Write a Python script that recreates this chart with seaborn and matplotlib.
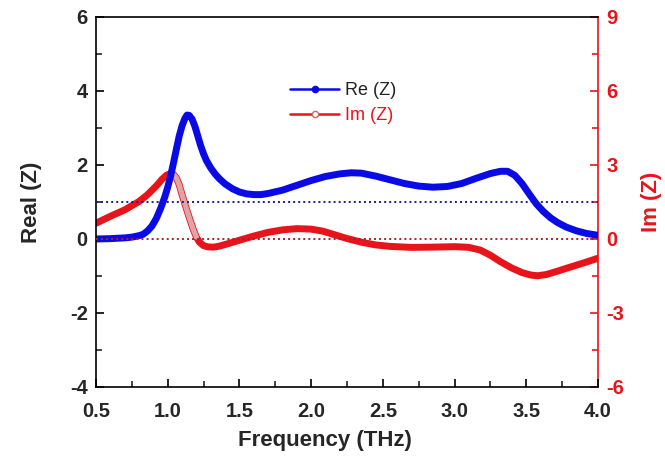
import numpy as np
import pandas as pd
import matplotlib
matplotlib.use("Agg")
import matplotlib.pyplot as plt
from matplotlib.lines import Line2D
from matplotlib.ticker import MultipleLocator
import seaborn as sns

# ---- data ----
freq_re = [0.50, 0.60, 0.70, 0.75, 0.80, 0.83, 0.86, 0.89, 0.92, 0.95, 0.98, 1.00,
           1.02, 1.04, 1.06, 1.08, 1.10, 1.12, 1.135, 1.15, 1.17, 1.19, 1.21, 1.23,
           1.25, 1.27, 1.30, 1.33, 1.36, 1.40, 1.45, 1.50, 1.55, 1.60, 1.65, 1.70,
           1.80, 1.90, 2.00, 2.10, 2.20, 2.28, 2.35, 2.45, 2.55, 2.65, 2.75, 2.85,
           2.95, 3.05, 3.15, 3.25, 3.32, 3.37, 3.42, 3.47, 3.52, 3.57, 3.62, 3.67,
           3.72, 3.78, 3.85, 3.92, 4.00]
real_z = [0.00, 0.01, 0.03, 0.05, 0.09, 0.13, 0.22, 0.35, 0.55, 0.82, 1.14, 1.40,
          1.70, 2.05, 2.42, 2.78, 3.06, 3.26, 3.35, 3.34, 3.24, 3.04, 2.78, 2.52,
          2.30, 2.12, 1.92, 1.76, 1.63, 1.49, 1.36, 1.27, 1.22, 1.20, 1.20, 1.23,
          1.32, 1.45, 1.58, 1.69, 1.76, 1.79, 1.78, 1.70, 1.60, 1.50, 1.43, 1.40,
          1.42, 1.50, 1.64, 1.77, 1.83, 1.83, 1.72, 1.50, 1.22, 0.95, 0.74, 0.57,
          0.44, 0.32, 0.22, 0.15, 0.10]

freq_im = [0.50, 0.60, 0.70, 0.80, 0.86, 0.92, 0.96, 0.99, 1.02, 1.04, 1.06, 1.08,
           1.10, 1.12, 1.14, 1.16, 1.18, 1.20, 1.22, 1.25, 1.28, 1.32, 1.36, 1.42,
           1.50, 1.60, 1.70, 1.80, 1.90, 2.00, 2.08, 2.16, 2.25, 2.35, 2.45, 2.55,
           2.70, 2.85, 3.00, 3.10, 3.18, 3.25, 3.32, 3.40, 3.47, 3.53, 3.58, 3.64,
           3.72, 3.80, 3.90, 4.00]
imag_z = [0.64, 0.92, 1.18, 1.52, 1.80, 2.15, 2.42, 2.58, 2.66, 2.62, 2.48, 2.20,
          1.80, 1.42, 1.05, 0.70, 0.36, 0.08, -0.12, -0.27, -0.32, -0.33, -0.29, -0.19,
          -0.05, 0.12, 0.27, 0.37, 0.42, 0.40, 0.32, 0.18, 0.02, -0.13, -0.24, -0.30,
          -0.34, -0.33, -0.31, -0.34, -0.45, -0.66, -0.92, -1.18, -1.36, -1.46, -1.49, -1.44,
          -1.30, -1.15, -0.97, -0.78]

ref_real = 1.0
ref_imag = 0.0

x_ticks = [0.5, 1.0, 1.5, 2.0, 2.5, 3.0, 3.5, 4.0]
y_left_ticks = [-4, -2, 0, 2, 4, 6]
y_right_ticks = [-6, -3, 0, 3, 6, 9]

df_re = pd.DataFrame({"f": freq_re, "v": real_z})
df_im = pd.DataFrame({"f": freq_im, "v": imag_z})
df_fade = df_im[(df_im.f >= 1.03) & (df_im.f <= 1.20)]

# ---- style ----
sns.set_style("ticks")
plt.rcParams["font.family"] = ["Liberation Sans", "DejaVu Sans"]

BLUE = "#0a0ae6"
RED = "#e8141c"
DBLUE = "#1a1a9a"
DRED = "#b01c2a"

fig = plt.figure(figsize=(6.65, 4.63), dpi=100)
ax = fig.add_axes([96 / 665, 1 - 387 / 463, 502 / 665, 370 / 463])
ax2 = ax.twinx()

ax.set_xlim(0.5, 4.0)
ax.set_ylim(-4, 6)
ax2.set_ylim(-6, 9)

LW = 5.0

# red curve (right axis)
sns.lineplot(data=df_im, x="f", y="v", ax=ax2, color=RED, lw=LW, sort=False,
             solid_capstyle="round", zorder=2)
sns.lineplot(data=df_fade, x="f", y="v", ax=ax2, color="#e0a4a4", lw=3.8, sort=False,
             solid_capstyle="round", zorder=3)

# blue curve (left axis) - put left axis on top
ax.set_zorder(ax2.get_zorder() + 1)
ax.patch.set_visible(False)
sns.lineplot(data=df_re, x="f", y="v", ax=ax, color=BLUE, lw=LW, sort=False,
             solid_capstyle="round", zorder=2)
ax.axhline(ref_real, color=DBLUE, lw=1.4, ls=(0, (1, 1.6)), zorder=5)
# red dotted reference (Im = 0) drawn on top of the blue curve
ax.axhline(ref_imag, color=DRED, lw=1.4, ls=(0, (1, 1.6)), zorder=5)

# ticks
ax.set_xticks(x_ticks)
ax.set_xticklabels([f"{t:.1f}" for t in x_ticks])
ax.set_yticks(y_left_ticks)
ax.set_yticklabels([str(t) for t in y_left_ticks])
ax.xaxis.set_minor_locator(MultipleLocator(0.25))
ax.yaxis.set_minor_locator(MultipleLocator(1))
ax2.set_yticks(y_right_ticks)
ax2.set_yticklabels([str(t) for t in y_right_ticks])
ax2.yaxis.set_minor_locator(MultipleLocator(1.5))

ax.tick_params(axis="both", which="major", direction="in", length=6, width=1.2,
               labelsize=14.5, color="black")
ax.tick_params(axis="x", which="major", pad=11)
ax.tick_params(axis="y", which="major", pad=6)
ax.tick_params(axis="both", which="minor", direction="in", length=4, width=1.2)
ax.tick_params(axis="y", which="both", right=False)
ax.tick_params(axis="x", which="both", top=False)
for lab in ax.get_xticklabels() + ax.get_yticklabels():
    lab.set_fontweight("bold")

ax2.tick_params(axis="y", which="major", direction="in", length=6, width=1.2,
                labelsize=14.5, pad=6, color=RED, labelcolor=RED)
ax2.tick_params(axis="y", which="minor", direction="in", length=4, width=1.2, color=RED)
for lab in ax2.get_yticklabels():
    lab.set_fontweight("bold")

for s in ["left", "bottom", "top"]:
    ax.spines[s].set_linewidth(1.2)
    ax.spines[s].set_color("black")
ax.spines["right"].set_visible(False)
for s in ["left", "bottom", "top"]:
    ax2.spines[s].set_visible(False)
ax2.spines["right"].set_linewidth(1.2)
ax2.spines["right"].set_color(RED)

ax.set_xlabel("Frequency (THz)", fontsize=16, fontweight="bold")
ax.xaxis.set_label_coords(0.456, -0.116)
ax.set_ylabel("Real (Z)", fontsize=16, fontweight="bold", labelpad=20)
ax2.set_ylabel("Im (Z)", fontsize=16, fontweight="bold", color=RED, rotation=90,
               labelpad=12)

# legend
handles = [
    Line2D([], [], color=BLUE, lw=1.8, marker="o", ms=4.5, mfc=BLUE, mec=BLUE),
    Line2D([], [], color=RED, lw=1.8, marker="o", ms=4.5, mfc="white", mec="#cc6666"),
]
leg = ax.legend(handles, ["Re (Z)", "Im (Z)"], loc="upper left",
                bbox_to_anchor=(0.355, 0.868), frameon=False, fontsize=13,
                handlelength=2.7, handletextpad=0.3, labelspacing=0.45)
leg.get_texts()[0].set_color("#222222")
leg.get_texts()[1].set_color(RED)

fig.savefig("out.png", dpi=100)
